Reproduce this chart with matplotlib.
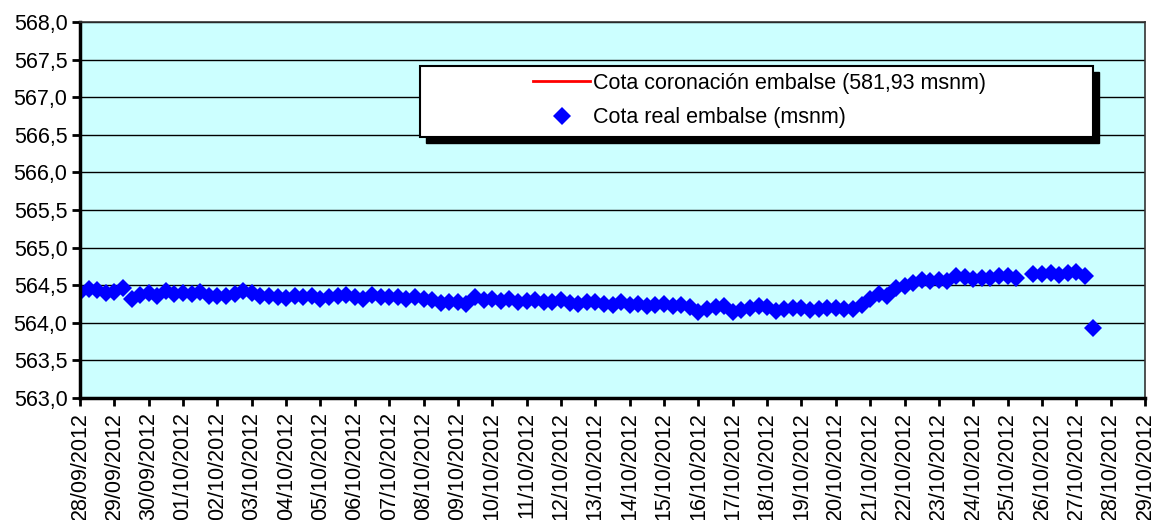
import pandas as pd
import numpy as np
import matplotlib
matplotlib.use("Agg")
import matplotlib.pyplot as plt
import matplotlib.dates as mdates
from matplotlib.ticker import FuncFormatter, MultipleLocator
from matplotlib.patches import Rectangle

plt.rcParams['font.family'] = ['Liberation Sans', 'DejaVu Sans']

#reservoir level every 6 hours, from 28/09/2012 00:00 (nan = no reading)
cota_real = [
    564.41, 564.45, 564.43, 564.40,   # 28/09
    564.41, 564.46, 564.31, 564.37,   # 29/09
    564.39, 564.36, 564.42, 564.38,   # 30/09
    564.39, 564.38, 564.41, 564.36,   # 01/10
    564.36, 564.35, 564.38, 564.42,   # 02/10
    564.39, 564.36, 564.35, 564.34,   # 03/10
    564.33, 564.36, 564.34, 564.35,   # 04/10
    564.32, 564.34, 564.36, 564.37,   # 05/10
    564.34, 564.31, 564.37, 564.34,   # 06/10
    564.34, 564.34, 564.32, 564.34,   # 07/10
    564.32, 564.30, 564.26, 564.28,   # 08/10
    564.27, 564.25, 564.34, 564.30,   # 09/10
    564.31, 564.29, 564.31, 564.28,   # 10/10
    564.29, 564.30, 564.27, 564.28,   # 11/10
    564.30, 564.26, 564.25, 564.28,   # 12/10
    564.27, 564.25, 564.24, 564.27,   # 13/10
    564.24, 564.25, 564.22, 564.24,   # 14/10
    564.25, 564.22, 564.24, 564.21,   # 15/10
    564.15, 564.18, 564.21, 564.22,   # 16/10
    564.15, 564.17, 564.20, 564.22,   # 17/10
    564.21, 564.16, 564.19, 564.20,   # 18/10
    564.20, 564.17, 564.19, 564.20,   # 19/10
    564.20, 564.18, 564.19, 564.24,   # 20/10
    564.31, 564.38, 564.36, 564.46,   # 21/10
    564.49, 564.53, 564.57, 564.56,   # 22/10
    564.57, 564.55, 564.62, 564.61,   # 23/10
    564.58, 564.60, 564.59, 564.62,   # 24/10
    564.62, 564.59, np.nan, 564.65,   # 25/10
    564.65, 564.66, 564.63, 564.66,   # 26/10
    564.67, 564.62, 563.93,           # 27/10
]
cota_coronacion = 581.93

fechas = pd.date_range("2012-09-28", periods=len(cota_real), freq="6h")
dias = pd.date_range("2012-09-28", "2012-10-29", freq="D")

fig = plt.figure(figsize=(11.55, 5.2), dpi=100)
ax = fig.add_axes([80/1155, 122/520, 1065/1155, 376/520])
ax.set_facecolor('#ccffff')

ax.plot([dias[0], dias[-1]], [cota_coronacion, cota_coronacion], color='red', lw=2,
        label='Cota coronación embalse (581,93 msnm)')
ax.plot(fechas, cota_real, linestyle='none', marker='D', ms=9.5, color='blue',
        markeredgewidth=0, label='Cota real embalse (msnm)')

ax.set_xlim(dias[0], dias[-1])
ax.set_ylim(563, 568)
ax.yaxis.set_major_locator(MultipleLocator(0.5))
ax.yaxis.set_major_formatter(FuncFormatter(lambda v, p: f"{v:.1f}".replace('.', ',')))
ax.set_xticks(dias)
ax.xaxis.set_major_formatter(mdates.DateFormatter('%d/%m/%Y'))
plt.setp(ax.get_xticklabels(), rotation=90)
ax.tick_params(axis='both', labelsize=15.5, direction='out', length=6, width=2, color='black')
ax.tick_params(axis='x', pad=4)
ax.tick_params(axis='y', pad=3)
ax.grid(axis='y', color='black', lw=1)
ax.set_axisbelow(True)

for s in ['left', 'bottom']:
    ax.spines[s].set_linewidth(2.5)
ax.spines['top'].set_linewidth(1.2)
ax.spines['top'].set_color('#333333')
ax.spines['right'].set_linewidth(1.2)
ax.spines['right'].set_color('#333333')

#legend box with hard black shadow
bx0, bx1 = (420-80)/1065, (1093-80)/1065
by0, by1 = 1-(137-22)/376, 1-(66-22)/376
ax.add_patch(Rectangle((bx0+6/1065, by0-6/376), bx1-bx0, by1-by0, transform=ax.transAxes,
                       facecolor='black', edgecolor='black', zorder=5))
ax.add_patch(Rectangle((bx0, by0), bx1-bx0, by1-by0, transform=ax.transAxes,
                       facecolor='white', edgecolor='black', lw=1.5, zorder=6))
leg = ax.legend(loc='upper left', bbox_to_anchor=((533-80)/1065, 1-(73-22)/376),
                frameon=False, fontsize=15.5, handlelength=2.65, handletextpad=0.12,
                borderpad=0, borderaxespad=0, labelspacing=0.62)
leg.set_zorder(7)

fig.savefig('out.png', dpi=100)
